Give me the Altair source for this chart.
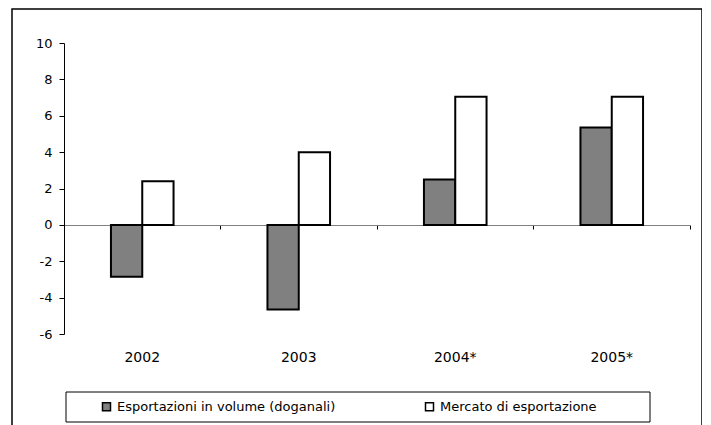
import altair as alt
import pandas as pd

years = ["2002", "2003", "2004*", "2005*"]
export_volume = [-2.85, -4.65, 2.5, 5.35]
export_market = [2.4, 4.0, 7.05, 7.05]
series_names = ["Esportazioni in volume (doganali)", "Mercato di esportazione"]
series_colors = ["#808080", "#ffffff"]
y_ticks = [-6, -4, -2, 0, 2, 4, 6, 8, 10]

rows = []
for i, yr in enumerate(years):
    rows.append({"anno": yr, "serie": series_names[0], "valore": export_volume[i]})
    rows.append({"anno": yr, "serie": series_names[1], "valore": export_market[i]})
df = pd.DataFrame(rows)

FONT = "DejaVu Sans"
W, H = 690, 420

x_scale = alt.Scale(domain=years, range=[52, 678], paddingInner=0.6, paddingOuter=0.3)
y_scale = alt.Scale(domain=[-6, 10], range=[325, 34], nice=False, zero=False)

bars = alt.Chart(df).mark_bar(stroke="black", strokeWidth=2).encode(
    x=alt.X("anno:N", scale=x_scale, sort=years,
            axis=alt.Axis(orient="bottom", offset=-79, domain=False, ticks=False,
                          labelPadding=0, labelAngle=0, labelBaseline="top",
                          labelFont=FONT, labelFontSize=14, labelColor="black",
                          title=None, grid=False)),
    xOffset=alt.XOffset("serie:N", sort=series_names,
                        scale=alt.Scale(paddingInner=0, paddingOuter=0)),
    y=alt.Y("valore:Q", scale=y_scale,
            axis=alt.Axis(values=y_ticks, offset=-52, title=None, grid=False,
                          labelExpr="'' + datum.value",
                          domainColor="black", tickColor="black", tickSize=5,
                          labelPadding=7, labelFont=FONT, labelFontSize=13,
                          labelColor="black")),
    color=alt.Color("serie:N", sort=series_names,
                    scale=alt.Scale(domain=series_names, range=series_colors),
                    legend=alt.Legend(orient="none", legendX=88, legendY=391,
                                      direction="horizontal", title=None,
                                      symbolType="square", symbolSize=64,
                                      symbolStrokeColor="black", symbolStrokeWidth=1.5,
                                      labelFont=FONT, labelFontSize=13, labelColor="black",
                                      labelLimit=400, columnPadding=86, labelOffset=4,
                                      padding=0)),
)

zero_axis = alt.Chart(df).mark_point(opacity=0).encode(
    x=alt.X("anno:N", scale=x_scale, sort=years,
            axis=alt.Axis(orient="bottom", offset=-204, labels=False,
                          domainColor="#808080", tickColor="black", tickSize=4,
                          bandPosition=1.75, title=None, grid=False)),
)

legend_box = alt.Chart(pd.DataFrame({"k": [0]})).mark_rect(
    fill="white", fillOpacity=0, stroke="black", strokeWidth=1
).encode(x=alt.value(54), x2=alt.value(638), y=alt.value(383), y2=alt.value(413))

chart = alt.layer(zero_axis, bars, legend_box).resolve_axis(x="independent").properties(
    width=W, height=H, padding={"left": 4, "top": 1, "right": 0, "bottom": 0}
).configure_view(stroke="black", strokeWidth=1.5)

chart.save("out.html", embed_options={"renderer": "svg", "actions": False})
